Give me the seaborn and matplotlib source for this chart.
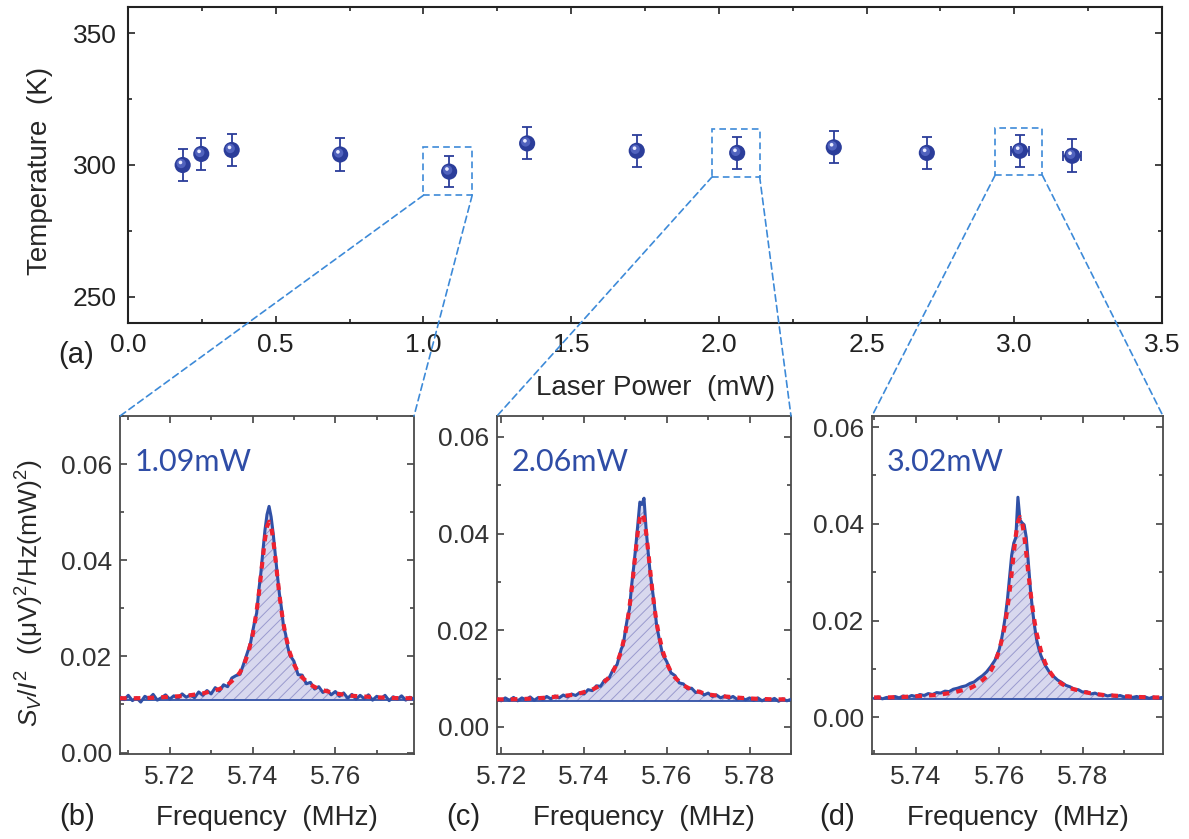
import numpy as np
import matplotlib
matplotlib.use("Agg")
import matplotlib.pyplot as plt
import seaborn as sns
from matplotlib.patches import Rectangle, ConnectionPatch
from matplotlib.ticker import MultipleLocator, FormatStrFormatter
from matplotlib.transforms import ScaledTranslation

# ---------------- data: panel (a) ----------------
laser_power = [0.185, 0.248, 0.351, 0.718, 1.087, 1.351, 1.722, 2.062, 2.389, 2.704, 3.019, 3.196]
temperature = [300.0, 304.2, 305.7, 304.0, 297.5, 308.2, 305.4, 304.6, 306.7, 304.6, 305.4, 303.5]
temp_err = [6.1, 6.2, 6.1, 6.2, 5.9, 6.1, 6.1, 6.2, 6.1, 6.2, 6.1, 6.3]
power_err = [0, 0, 0, 0, 0, 0, 0, 0, 0, 0, 0.03, 0.03]

# zoom boxes in panel (a): (x0, x1, y0, y1)
zoom_boxes = [(1.000, 1.165, 288.5, 306.8),
              (1.978, 2.138, 295.6, 313.8),
              (2.935, 3.095, 296.1, 314.2)]

power_labels = ["1.09mW", "2.06mW", "3.02mW"]
panel_letters = ["(b)", "(c)", "(d)"]

# ---------------- data: panel (b) 1.09 mW ----------------
freq_b = [5.708, 5.709, 5.710, 5.711, 5.712, 5.713, 5.714, 5.715, 5.716, 5.717, 5.718, 5.719,
          5.720, 5.721, 5.722, 5.723, 5.724, 5.725, 5.726, 5.727, 5.728, 5.729, 5.730, 5.731,
          5.732, 5.733, 5.734, 5.735, 5.736, 5.737, 5.738, 5.739,
          5.7395, 5.7400, 5.7405, 5.7410, 5.7415, 5.7420, 5.7425, 5.7430, 5.7435, 5.7440,
          5.7445, 5.7450, 5.7455, 5.7460, 5.7465, 5.7470, 5.7475, 5.7480, 5.7485,
          5.749, 5.750, 5.751, 5.752, 5.753, 5.754, 5.755, 5.756, 5.757, 5.758, 5.759, 5.760,
          5.761, 5.762, 5.763, 5.764, 5.765, 5.766, 5.767, 5.768, 5.769, 5.770, 5.771, 5.772,
          5.773, 5.774, 5.775, 5.776, 5.777, 5.778, 5.779]
spec_b = [0.0116, 0.0110, 0.0119, 0.0108, 0.0114, 0.0105, 0.0117, 0.0112, 0.0121, 0.0109, 0.0114, 0.0120,
          0.0111, 0.0118, 0.0113, 0.0122, 0.0115, 0.0120, 0.0114, 0.0126, 0.0119, 0.0129, 0.0122, 0.0135,
          0.0128, 0.0141, 0.0137, 0.0155, 0.0160, 0.0163, 0.0188, 0.0214,
          0.0227, 0.0250, 0.0272, 0.0290, 0.0336, 0.0372, 0.0418, 0.0462, 0.0495, 0.0512,
          0.0490, 0.0455, 0.0412, 0.0370, 0.0330, 0.0300, 0.0262, 0.0246, 0.0220,
          0.0203, 0.0190, 0.0162, 0.0161, 0.0143, 0.0146, 0.0132, 0.0137, 0.0125, 0.0130, 0.0120, 0.0127,
          0.0117, 0.0124, 0.0113, 0.0121, 0.0111, 0.0119, 0.0112, 0.0120, 0.0109, 0.0117, 0.0112, 0.0119,
          0.0108, 0.0116, 0.0111, 0.0118, 0.0109, 0.0115, 0.0111]
fitx_b = [5.708, 5.712, 5.716, 5.720, 5.724, 5.728, 5.732, 5.734, 5.736, 5.737, 5.738, 5.739, 5.740,
          5.7405, 5.741, 5.7415, 5.742, 5.7425, 5.743, 5.7435, 5.744, 5.7445, 5.745, 5.7455, 5.746,
          5.7465, 5.747, 5.7475, 5.748, 5.749, 5.750, 5.751, 5.752, 5.754, 5.756, 5.760, 5.764,
          5.768, 5.772, 5.776, 5.779]
fity_b = [0.0113, 0.0113, 0.0114, 0.0116, 0.0118, 0.0123, 0.0132, 0.0141, 0.0156, 0.0167, 0.0184, 0.0208, 0.0243,
          0.0267, 0.0295, 0.0328, 0.0366, 0.0406, 0.0443, 0.0470, 0.0480, 0.0470, 0.0443, 0.0406, 0.0366,
          0.0328, 0.0295, 0.0267, 0.0243, 0.0208, 0.0184, 0.0167, 0.0156, 0.0141, 0.0132, 0.0123, 0.0118,
          0.0116, 0.0114, 0.0113, 0.0113]
base_b = 0.0110

# ---------------- data: panel (c) 2.06 mW ----------------
freq_c = [5.719, 5.720, 5.721, 5.722, 5.723, 5.724, 5.725, 5.726, 5.727, 5.728, 5.729, 5.730,
          5.731, 5.732, 5.733, 5.734, 5.735, 5.736, 5.737, 5.738, 5.739, 5.740, 5.741, 5.742,
          5.743, 5.744, 5.745, 5.746, 5.747, 5.748, 5.749,
          5.7495, 5.7500, 5.7505, 5.7510, 5.7515, 5.7520, 5.7525, 5.7530, 5.7535, 5.7540,
          5.7545, 5.7550, 5.7555, 5.7560, 5.7565, 5.7570, 5.7575, 5.7580, 5.7585,
          5.759, 5.760, 5.761, 5.762, 5.763, 5.764, 5.765, 5.766, 5.767, 5.768, 5.769, 5.770,
          5.771, 5.772, 5.773, 5.774, 5.775, 5.776, 5.777, 5.778, 5.779, 5.780, 5.781, 5.782,
          5.783, 5.784, 5.785, 5.786, 5.787, 5.788, 5.789, 5.790]
spec_c = [0.0059, 0.0054, 0.0060, 0.0055, 0.0061, 0.0054, 0.0060, 0.0056, 0.0062, 0.0055, 0.0061, 0.0057,
          0.0063, 0.0058, 0.0064, 0.0060, 0.0066, 0.0062, 0.0068, 0.0065, 0.0071, 0.0068, 0.0077, 0.0075,
          0.0085, 0.0084, 0.0097, 0.0100, 0.0118, 0.0129, 0.0161,
          0.0170, 0.0200, 0.0225, 0.0244, 0.0292, 0.0330, 0.0372, 0.0418, 0.0465, 0.0460,
          0.0473, 0.0410, 0.0362, 0.0318, 0.0286, 0.0252, 0.0214, 0.0190, 0.0169,
          0.0150, 0.0135, 0.0112, 0.0106, 0.0091, 0.0089, 0.0079, 0.0080, 0.0071, 0.0074, 0.0066, 0.0070,
          0.0063, 0.0066, 0.0060, 0.0064, 0.0059, 0.0063, 0.0057, 0.0061, 0.0056, 0.0060, 0.0055, 0.0060,
          0.0054, 0.0058, 0.0055, 0.0059, 0.0053, 0.0058, 0.0054, 0.0057]
fitx_c = [5.719, 5.722, 5.726, 5.730, 5.734, 5.738, 5.742, 5.744, 5.746, 5.747, 5.748, 5.749, 5.750,
          5.7505, 5.751, 5.7515, 5.752, 5.7525, 5.753, 5.7535, 5.754, 5.7545, 5.755, 5.7555, 5.756,
          5.7565, 5.757, 5.7575, 5.758, 5.759, 5.760, 5.761, 5.762, 5.764, 5.766, 5.770, 5.774,
          5.778, 5.782, 5.786, 5.790]
fity_c = [0.0057, 0.0057, 0.0058, 0.0060, 0.0063, 0.0067, 0.0077, 0.0086, 0.0102, 0.0114, 0.0132, 0.0157, 0.0194,
          0.0218, 0.0248, 0.0283, 0.0323, 0.0364, 0.0403, 0.0432, 0.0442, 0.0432, 0.0403, 0.0364, 0.0323,
          0.0283, 0.0248, 0.0218, 0.0194, 0.0157, 0.0132, 0.0114, 0.0102, 0.0086, 0.0077, 0.0067, 0.0063,
          0.0060, 0.0058, 0.0057, 0.0057]
base_c = 0.0054

# ---------------- data: panel (d) 3.02 mW ----------------
freq_d = [5.730, 5.731, 5.732, 5.733, 5.734, 5.735, 5.736, 5.737, 5.738, 5.739, 5.740, 5.741,
          5.742, 5.743, 5.744, 5.745, 5.746, 5.747, 5.748, 5.749, 5.750, 5.751, 5.752, 5.753,
          5.754, 5.755, 5.756, 5.757, 5.758, 5.759, 5.760,
          5.7605, 5.7610, 5.7615, 5.7620, 5.7625, 5.7630, 5.7635, 5.7640, 5.7645, 5.7650,
          5.7655, 5.7660, 5.7665, 5.7670, 5.7675, 5.7680, 5.7685, 5.7690, 5.7695,
          5.770, 5.771, 5.772, 5.773, 5.774, 5.775, 5.776, 5.777, 5.778, 5.779, 5.780, 5.781,
          5.782, 5.783, 5.784, 5.785, 5.786, 5.787, 5.788, 5.789, 5.790, 5.791, 5.792, 5.793,
          5.794, 5.795, 5.796, 5.797, 5.798, 5.799]
spec_d = [0.0039, 0.0042, 0.0038, 0.0041, 0.0039, 0.0043, 0.0040, 0.0044, 0.0041, 0.0045, 0.0043, 0.0047,
          0.0045, 0.0049, 0.0047, 0.0051, 0.0050, 0.0054, 0.0053, 0.0058, 0.0060, 0.0063, 0.0065, 0.0070,
          0.0073, 0.0080, 0.0086, 0.0094, 0.0105, 0.0118, 0.0140,
          0.0158, 0.0182, 0.0210, 0.0245, 0.0290, 0.0335, 0.0360, 0.0372, 0.0455, 0.0408,
          0.0402, 0.0398, 0.0372, 0.0320, 0.0265, 0.0222, 0.0188, 0.0160, 0.0142,
          0.0128, 0.0108, 0.0094, 0.0085, 0.0077, 0.0072, 0.0066, 0.0063, 0.0058, 0.0057, 0.0052, 0.0053,
          0.0048, 0.0050, 0.0046, 0.0047, 0.0044, 0.0046, 0.0043, 0.0045, 0.0042, 0.0044, 0.0041, 0.0043,
          0.0040, 0.0042, 0.0039, 0.0042, 0.0039, 0.0041]
fitx_d = [5.730, 5.733, 5.737, 5.741, 5.745, 5.749, 5.753, 5.755, 5.757, 5.758, 5.759, 5.760, 5.761,
          5.7615, 5.762, 5.7625, 5.763, 5.7635, 5.764, 5.7645, 5.765, 5.7655, 5.766, 5.7665, 5.767,
          5.7675, 5.768, 5.7685, 5.769, 5.770, 5.771, 5.772, 5.773, 5.775, 5.777, 5.781, 5.785,
          5.789, 5.793, 5.797, 5.799]
fity_d = [0.0041, 0.0041, 0.0042, 0.0044, 0.0046, 0.0051, 0.0060, 0.0069, 0.0084, 0.0096, 0.0113, 0.0138, 0.0173,
          0.0197, 0.0226, 0.0260, 0.0298, 0.0339, 0.0376, 0.0404, 0.0414, 0.0404, 0.0376, 0.0339, 0.0298,
          0.0260, 0.0226, 0.0197, 0.0173, 0.0138, 0.0113, 0.0096, 0.0084, 0.0069, 0.0060, 0.0051, 0.0046,
          0.0044, 0.0042, 0.0041, 0.0041]
base_d = 0.0037

# ---------------- style ----------------
sns.set_theme(style="ticks")
plt.rcParams["font.family"] = ["Liberation Sans", "DejaVu Sans"]
plt.rcParams["mathtext.fontset"] = "custom"
plt.rcParams["mathtext.rm"] = "Liberation Sans"
plt.rcParams["mathtext.it"] = "Liberation Sans:italic"
plt.rcParams["mathtext.bf"] = "Liberation Sans:bold"
plt.rcParams["hatch.linewidth"] = 0.7

PT_BLUE = "#2b3d9a"
LINE_BLUE = "#3050a6"
FILL = "#d8d8ee"
HATCH = "#9a9ace"
RED = "#ee2230"
ZOOM = "#3d8ad8"
TXT_BLUE = "#2f4da6"

W, H = 1189, 839
fig = plt.figure(figsize=(W / 100, H / 100), dpi=100)

def px_axes(l, t, r, b):
    return [l / W, 1 - b / H, (r - l) / W, (b - t) / H]

ax_a = fig.add_axes(px_axes(128, 7, 1162, 323))
ax_b = fig.add_axes(px_axes(120, 416, 414, 754))
ax_c = fig.add_axes(px_axes(497, 416, 791, 754))
ax_d = fig.add_axes(px_axes(872, 416, 1163, 754))

# ---------------- panel (a) ----------------
ax_a.errorbar(laser_power, temperature, yerr=temp_err, xerr=power_err, fmt="none",
              ecolor=PT_BLUE, elinewidth=1.3, capsize=3.6, capthick=1.3, zorder=2)
sns.scatterplot(x=laser_power, y=temperature, ax=ax_a, s=135, color=PT_BLUE,
                edgecolor="none", linewidth=0, zorder=3, legend=False)
off1 = ScaledTranslation(-1.5 / 100, 1.5 / 100, fig.dpi_scale_trans)
off2 = ScaledTranslation(-2.2 / 100, 2.6 / 100, fig.dpi_scale_trans)
ax_a.scatter(laser_power, temperature, s=45, color="#5062bd", edgecolor="none",
             transform=ax_a.transData + off1, zorder=4)
ax_a.scatter(laser_power, temperature, s=7, color="#e8eaff", edgecolor="none",
             transform=ax_a.transData + off2, zorder=5)

ax_a.set_xlim(0, 3.5)
ax_a.set_ylim(240, 360)
ax_a.xaxis.set_major_locator(MultipleLocator(0.5))
ax_a.xaxis.set_minor_locator(MultipleLocator(0.25))
ax_a.yaxis.set_major_locator(MultipleLocator(50))
ax_a.yaxis.set_minor_locator(MultipleLocator(25))
ax_a.xaxis.set_major_formatter(FormatStrFormatter("%.1f"))
ax_a.set_xlabel("Laser Power  (mW)", fontsize=20, va="center")
ax_a.xaxis.set_label_coords(0.51, -0.205)
ax_a.set_ylabel("Temperature  (K)", fontsize=20, va="center")
ax_a.yaxis.set_label_coords(-0.085, 0.48)
for s in ax_a.spines.values():
    s.set_linewidth(1.5)
    s.set_color("#222222")
ax_a.tick_params(which="both", direction="in", top=True, right=True, colors="#222222")
ax_a.tick_params(which="major", length=5, width=1.2, labelsize=19, pad=7)
ax_a.tick_params(which="minor", length=3, width=1.2)
ax_a.tick_params(axis="y", which="major", pad=8)

for (x0, x1, y0, y1) in zoom_boxes:
    ax_a.add_patch(Rectangle((x0, y0), x1 - x0, y1 - y0, fill=False, edgecolor=ZOOM,
                             linewidth=1.2, linestyle=(0, (4, 2.5)), zorder=6))

# ---------------- spectra panels ----------------
panels = [
    (ax_b, freq_b, spec_b, fitx_b, fity_b, base_b, (5.708, 5.779), (-0.0003, 0.0700)),
    (ax_c, freq_c, spec_c, fitx_c, fity_c, base_c, (5.719, 5.790), (-0.0056, 0.0643)),
    (ax_d, freq_d, spec_d, fitx_d, fity_d, base_d, (5.7295, 5.7993), (-0.0076, 0.0623)),
]

letter_pos = [77, 463, 837]
for i, (ax, fx, sy, ffx, ffy, base, xl, yl) in enumerate(panels):
    ax.fill_between(fx, base, sy, facecolor=FILL, edgecolor=HATCH, hatch="///",
                    linewidth=0, zorder=1)
    ax.hlines(base, fx[0], fx[-1], color=LINE_BLUE, linewidth=1.3, zorder=2)
    sns.lineplot(x=fx, y=sy, ax=ax, color=LINE_BLUE, linewidth=2.2, sort=False,
                 estimator=None, zorder=3)
    sns.lineplot(x=ffx, y=ffy, ax=ax, color=RED, linewidth=3.0, sort=False,
                 estimator=None, linestyle=(0, (1.6, 1.7)), zorder=4)
    ax.set_xlim(*xl)
    ax.set_ylim(*yl)
    ax.xaxis.set_major_locator(MultipleLocator(0.02))
    ax.xaxis.set_minor_locator(MultipleLocator(0.01))
    ax.yaxis.set_major_locator(MultipleLocator(0.02))
    ax.yaxis.set_minor_locator(MultipleLocator(0.01))
    ax.xaxis.set_major_formatter(FormatStrFormatter("%.2f"))
    ax.yaxis.set_major_formatter(FormatStrFormatter("%.2f"))
    for s in ax.spines.values():
        s.set_linewidth(1.3)
        s.set_color("#4a4a4a")
    ax.tick_params(which="both", direction="in", top=True, right=True, colors="#333333")
    ax.tick_params(which="major", length=5, width=1.1, labelsize=19)
    ax.tick_params(which="minor", length=3, width=1.1)
    ax.tick_params(axis="x", which="major", pad=8)
    ax.tick_params(axis="y", which="major", pad=6)
    ax.set_xlabel("Frequency  (MHz)", fontsize=20, va="center")
    ax.xaxis.set_label_coords(0.5, -0.19)
    ax.set_ylabel("")
    ax.text(0.051, 0.864, power_labels[i], transform=ax.transAxes, color=TXT_BLUE,
            fontsize=22, family=["Lato", "DejaVu Sans"], va="center", ha="left")
    fig.text(letter_pos[i] / W, 1 - 817 / H, panel_letters[i], fontsize=21,
             ha="center", va="center", color="#222222")

    # connection lines from zoom box to panel
    x0, x1, y0, y1 = zoom_boxes[i]
    for xa, xb in ((x0, 0.0), (x1, 1.0)):
        con = ConnectionPatch(xyA=(xa, y0), coordsA="data", axesA=ax_a,
                              xyB=(xb, 1.0), coordsB="axes fraction", axesB=ax,
                              color=ZOOM, linewidth=1.2, linestyle=(0, (4, 2.5)), zorder=10)
        fig.add_artist(con)

ax_b.set_ylabel(r"$S_V/I^2$  ((μV)$^2$/Hz(mW)$^2$)", fontsize=19, va="center")
ax_b.yaxis.set_label_coords(-0.306, 0.476)

fig.text(76 / W, 1 - 355 / H, "(a)", fontsize=21, ha="center", va="center", color="#222222")

fig.savefig("out.png", dpi=100)
